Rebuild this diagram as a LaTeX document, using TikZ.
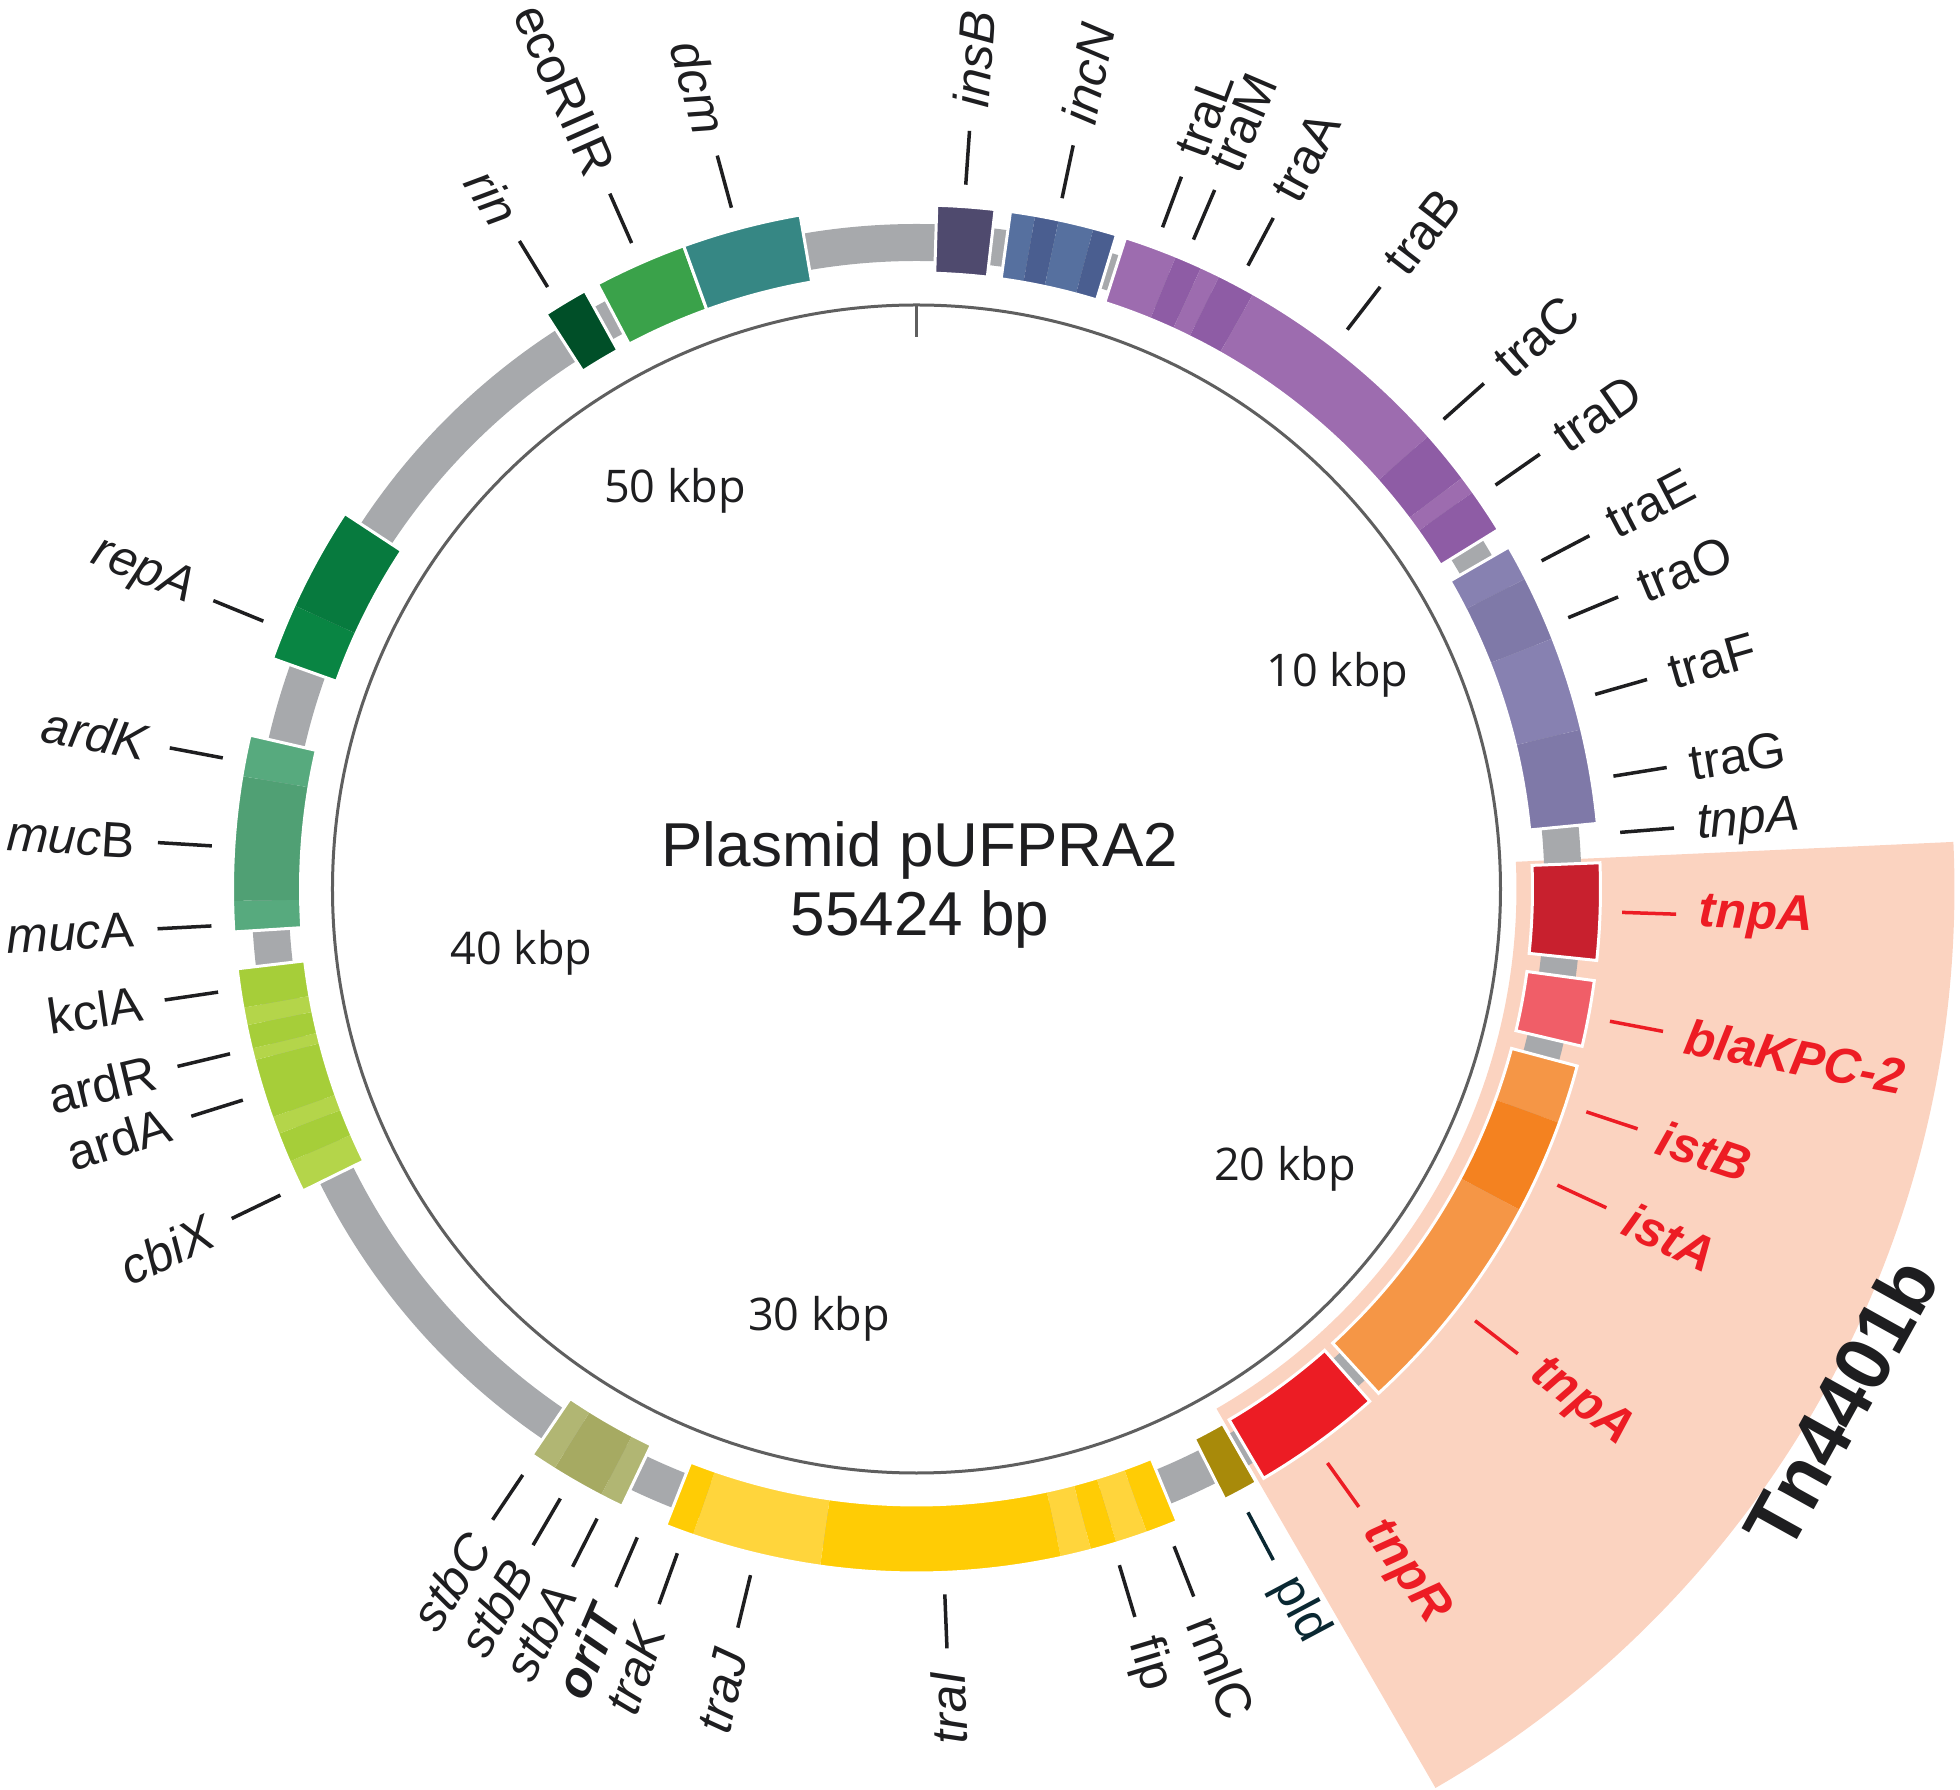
\documentclass[tikz,border=0pt]{standalone}
\usepackage{fontspec}
\setmainfont{Liberation Sans}
\newfontfamily\kbpfont{Open Sans}
\definecolor{ringgray}{RGB}{167,169,172}
\definecolor{innergray}{RGB}{95,95,95}
\definecolor{wedge}{RGB}{251,211,192}
\definecolor{labcol}{RGB}{30,30,32}
\definecolor{redlab}{RGB}{237,28,36}
\definecolor{pldcol}{RGB}{10,40,50}
\definecolor{insBc}{RGB}{79,74,110}
\definecolor{incNL}{RGB}{86,112,159}
\definecolor{incND}{RGB}{74,94,144}
\definecolor{purpL}{RGB}{157,108,175}
\definecolor{purpD}{RGB}{142,92,165}
\definecolor{lavL}{RGB}{135,129,177}
\definecolor{lavD}{RGB}{127,121,168}
\definecolor{tnpAc}{RGB}{200,32,46}
\definecolor{blac}{RGB}{240,94,104}
\definecolor{oraL}{RGB}{245,150,70}
\definecolor{oraD}{RGB}{244,130,32}
\definecolor{tnpRc}{RGB}{236,28,36}
\definecolor{pldbox}{RGB}{168,138,10}
\definecolor{yelD}{RGB}{255,204,5}
\definecolor{yelL}{RGB}{255,213,60}
\definecolor{stbL}{RGB}{177,182,115}
\definecolor{stbD}{RGB}{166,170,98}
\definecolor{limeD}{RGB}{166,206,57}
\definecolor{limeL}{RGB}{180,213,74}
\definecolor{mucL}{RGB}{87,170,126}
\definecolor{mucD}{RGB}{80,160,116}
\definecolor{repD}{RGB}{7,122,62}
\definecolor{repL}{RGB}{9,133,67}
\definecolor{rinc}{RGB}{0,79,40}
\definecolor{ecoc}{RGB}{58,162,74}
\definecolor{dcmc}{RGB}{54,135,132}
\newcommand\sect[5]{\fill[#5] ({90-(#1)}:#4) arc[start angle={90-(#1)}, end angle={90-(#2)}, radius=#4] -- ({90-(#2)}:#3) arc[start angle={90-(#2)}, end angle={90-(#1)}, radius=#3] -- cycle;}
\newcommand\gbox[3]{\sect{#1}{#2}{616}{684}{#3}}
\newcommand\gout[2]{\draw[white, line width=3pt] ({90-(#1)}:684) arc[start angle={90-(#1)}, end angle={90-(#2)}, radius=684] -- ({90-(#2)}:616) arc[start angle={90-(#2)}, end angle={90-(#1)}, radius=616] -- cycle;}
\newcommand\rlab[4]{\coordinate (#1i) at ({90-(#2)}:706); \coordinate (#1o) at ({90-(#2)}:760); \draw[leader,#4] (#1i) -- (#1o); \node[lab, text=#4, anchor=west, rotate={90-(#2)}] (#1) at ({90-(#2)}:783) {#3};}
\newcommand\llab[4]{\coordinate (#1i) at ({90-(#2)}:706); \coordinate (#1o) at ({90-(#2)}:760); \draw[leader,#4] (#1i) -- (#1o); \node[lab, text=#4, anchor=east, rotate={270-(#2)}] (#1) at ({90-(#2)}:783) {#3};}
\begin{document}
\begin{tikzpicture}[x=1pt,y=1pt,
  lab/.style={inner sep=0pt, font=\fontsize{50}{60}\selectfont},
  leader/.style={line width=3.5pt},
  kbp/.style={inner sep=0pt, font=\kbpfont\fontsize{45}{54}\selectfont, text=labcol},
  redb/.style={font=\fontsize{50}{60}\selectfont\bfseries\itshape}]
\useasboundingbox (-916.5,-901) rectangle (1043.5,889);
% Tn4401b region
\sect{87.4}{150}{600}{1038}{wedge}
% backbone ring
\fill[ringgray, even odd rule] (0,0) circle[radius=665] (0,0) circle[radius=628];
\draw[innergray, line width=3pt] (0,0) circle[radius=584];
\coordinate (tick1) at (90:584); \coordinate (tick2) at (90:552);
\draw[innergray, line width=3pt] (tick1) -- (tick2);
% genes
\gbox{1.7}{6.6}{insBc}\gout{1.7}{6.6}
\gbox{7.9}{10}{incNL}\gbox{10}{12}{incND}\gbox{12}{15}{incNL}\gbox{15}{17}{incND}\gout{7.9}{17}
\gbox{17.8}{22.3}{purpL}\gbox{22.3}{24.6}{purpD}\gbox{24.6}{26.3}{purpL}\gbox{26.3}{29.5}{purpD}
\gbox{29.5}{48.5}{purpL}\gbox{48.5}{53}{purpD}\gbox{53}{54.5}{purpL}\gbox{54.5}{58.3}{purpD}\gout{17.8}{58.3}
\gbox{60}{63}{lavL}\gbox{63}{68.5}{lavD}\gbox{68.5}{76.5}{lavL}\gbox{76.5}{84.5}{lavD}\gout{60}{84.5}
\gbox{87.8}{96}{tnpAc}\gout{87.8}{96}
\gbox{97.7}{103.3}{blac}\gout{97.7}{103.3}
\gbox{105}{110}{oraL}\gbox{110}{118}{oraD}\gbox{118}{137.5}{oraL}\gout{105}{137.5}
\gbox{138.5}{149.5}{tnpRc}\gout{138.5}{149.5}
\gbox{150.2}{153.2}{pldbox}\gout{150.2}{153.2}
\gbox{157.6}{160.3}{yelD}\gbox{160.3}{163}{yelL}\gbox{163}{165.2}{yelD}\gbox{165.2}{167.8}{yelL}
\gbox{167.8}{188.1}{yelD}\gbox{188.1}{199.1}{yelL}\gbox{199.1}{201.5}{yelD}\gout{157.6}{201.5}
\gbox{205.5}{207.5}{stbL}\gbox{207.5}{212}{stbD}\gbox{212}{214.2}{stbL}\gout{205.5}{214.2}
\gbox{243.8}{246.5}{limeL}\gbox{246.5}{249}{limeD}\gbox{249}{250.5}{limeL}\gbox{250.5}{255.5}{limeD}
\gbox{255.5}{256.5}{limeL}\gbox{256.5}{258.5}{limeD}\gbox{258.5}{260}{limeL}\gbox{260}{263.3}{limeD}\gout{243.8}{263.3}
\gbox{266.4}{269}{mucL}\gbox{269}{279.5}{mucD}\gbox{279.5}{283}{mucL}\gout{266.4}{283}
\gbox{289.7}{294.5}{repL}\gbox{294.5}{303.3}{repD}\gout{289.7}{303.3}
\gbox{327.2}{331}{rinc}\gout{327.2}{331}
\gbox{332.2}{340.1}{ecoc}\gout{332.2}{340.1}
\gbox{340.1}{350.2}{dcmc}\gout{340.1}{350.2}
% labels right side
\rlab{insB}{4}{\itshape insB}{labcol}
\rlab{incN}{11.9}{\itshape incN}{labcol}
\rlab{traL}{20.4}{traL}{labcol}
\rlab{traM}{23.1}{traM}{labcol}
\rlab{traA}{28}{traA}{labcol}
\rlab{traB}{37.6}{traB}{labcol}
\rlab{traC}{48.3}{traC}{labcol}
\rlab{traD}{55.1}{traD}{labcol}
\rlab{traE}{62.3}{traE}{labcol}
\rlab{traO}{67.4}{traO}{labcol}
\rlab{traF}{74}{traF}{labcol}
\rlab{traG}{80.8}{traG}{labcol}
\rlab{tnpAa}{85.4}{\itshape tnpA}{labcol}
\rlab{tnpAb}{91.9}{\bfseries\itshape tnpA}{redlab}
\rlab{bla}{100.8}{\bfseries\itshape blaKPC-2}{redlab}
\rlab{istB}{108.4}{\bfseries\itshape istB}{redlab}
\rlab{istA}{114.8}{\bfseries\itshape istA}{redlab}
\rlab{tnpAc}{127.7}{\bfseries\itshape tnpA}{redlab}
\rlab{tnpR}{144.4}{\bfseries\itshape tnpR}{redlab}
\rlab{pld}{152}{pld}{pldcol}
\rlab{rmlC}{158.6}{rmlC}{labcol}
\rlab{fip}{163.3}{fip}{labcol}
% labels left side
\llab{traI}{177.7}{\itshape traI}{labcol}
\llab{traJ}{193.6}{\itshape traJ}{labcol}
\llab{traK}{199.8}{\itshape traK}{labcol}
\llab{oriT}{203.3}{\bfseries\itshape oriT}{labcol}
\llab{stbA}{206.9}{\itshape stbA}{labcol}
\llab{stbB}{210.3}{\itshape stbB}{labcol}
\llab{stbC}{213.9}{\itshape stbC}{labcol}
\llab{cbiX}{244.3}{\itshape cbiX}{labcol}
\llab{ardA}{252.6}{ardA}{labcol}
\llab{ardR}{256.5}{ardR}{labcol}
\llab{kclA}{261.6}{kclA}{labcol}
\llab{mucA}{267}{\itshape muc\upshape A}{labcol}
\llab{mucB}{273.5}{\itshape muc\upshape B}{labcol}
\llab{ardK}{280.7}{\itshape ardK}{labcol}
\llab{repA}{292.3}{\itshape repA}{labcol}
\llab{rin}{328.5}{\itshape rin}{labcol}
\llab{eco}{336.2}{ecoRIIR}{labcol}
\llab{dcm}{344.8}{\itshape dcm}{labcol}
% scale labels
\node[kbp] (k10) at (421,214) {10 kbp};
\node[kbp] (k20) at (368.5,-280) {20 kbp};
\node[kbp] (k30) at (-97.5,-430) {30 kbp};
\node[kbp] (k40) at (-395,-63.5) {40 kbp};
\node[kbp] (k50) at (-241.5,398) {50 kbp};
% title
\node[inner sep=0pt, font=\fontsize{62}{70}\selectfont, text=labcol] (t1) at (3.5,39) {Plasmid pUFPRA2};
\node[inner sep=0pt, font=\fontsize{62}{70}\selectfont, text=labcol] (t2) at (3.5,-30) {55424 bp};
\node[inner sep=0pt, font=\fontsize{78}{86}\selectfont\bfseries, text=labcol, rotate=61] (tn) at (924,-515) {Tn4401b};
\end{tikzpicture}
\end{document}
